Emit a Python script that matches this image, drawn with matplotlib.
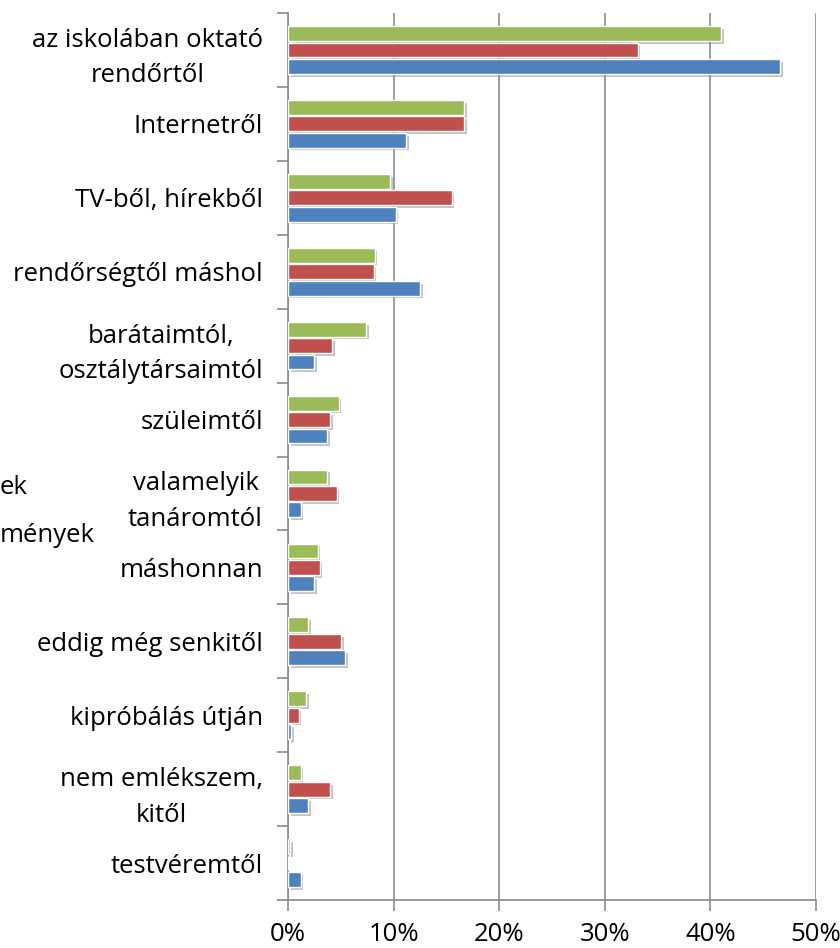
import numpy as np
import matplotlib.pyplot as plt
import matplotlib.patheffects as pe

categories = ['az iskolában oktató\nrendőrtől', 'Internetről', 'TV-ből, hírekből',
              'rendőrségtől máshol', 'barátaimtól,\nosztálytársaimtól', 'szüleimtől',
              'valamelyik\ntanáromtól', 'máshonnan', 'eddig még senkitől',
              'kipróbálás útján', 'nem emlékszem,\nkitől', 'testvéremtől']
green_vals = [41.0, 16.7, 9.7, 8.2, 7.4, 4.8, 3.7, 2.8, 1.9, 1.7, 1.2, 0.2]
red_vals = [33.1, 16.7, 15.5, 8.1, 4.2, 4.0, 4.6, 3.0, 5.0, 1.0, 4.0, 0.0]
blue_vals = [46.6, 11.2, 10.2, 12.5, 2.5, 3.7, 1.2, 2.5, 5.4, 0.3, 1.9, 1.2]
legend_bits = ['ek', 'mények']
xticks = [0, 10, 20, 30, 40, 50]

plt.rcParams['font.family'] = ['Open Sans', 'DejaVu Sans']
fig = plt.figure(figsize=(8.4, 9.48), dpi=100)
ax = fig.add_axes([288/840, 48/948, 528/840, 887/948])

grid_c = '#8a8a8a'
fs = 18.5
y = np.arange(len(categories))
# soft drop shadow like the Excel bars
shadow = [pe.SimplePatchShadow(offset=(2, -2), shadow_rgbFace='#6a6a6a', alpha=0.4), pe.Normal()]
for vals, off, col in [(green_vals, -0.222, '#9BBB59'), (red_vals, 0.0, '#C0504D'), (blue_vals, 0.222, '#4F81BD')]:
    bars = ax.barh(y + off, vals, height=0.2, color=col, edgecolor='white', linewidth=1, zorder=3)
    for b in bars:
        if b.get_width() > 0:
            b.set_path_effects(shadow)

ax.set_xlim(0, 50)
ax.set_ylim(len(categories) - 0.5, -0.5)
ax.set_xticks(xticks)
ax.set_xticklabels([f'{t}%' for t in xticks], fontsize=fs)
ax.set_yticks(y, minor=False)
ax.set_yticklabels(categories, fontsize=fs, multialignment='center', linespacing=1.55)
ax.set_yticks(np.arange(-0.5, len(categories)), minor=True)
ax.tick_params(axis='y', which='major', length=0, pad=18)
ax.tick_params(axis='y', which='minor', length=8, width=1.2, color=grid_c)
ax.tick_params(axis='x', length=8, width=1.2, color=grid_c, pad=8)
ax.grid(axis='x', color=grid_c, linewidth=1.2, zorder=0)
ax.set_axisbelow(True)
for s in ['top', 'right']:
    ax.spines[s].set_visible(False)
for s in ['left', 'bottom']:
    ax.spines[s].set_color(grid_c)
    ax.spines[s].set_linewidth(1.2)

# cut-off legend entries at the left edge
fig.text(0, 1 - 487/948, legend_bits[0], fontsize=fs, ha='left', va='center')
fig.text(0, 1 - 535/948, legend_bits[1], fontsize=fs, ha='left', va='center')

fig.savefig('out.png', dpi=100)
